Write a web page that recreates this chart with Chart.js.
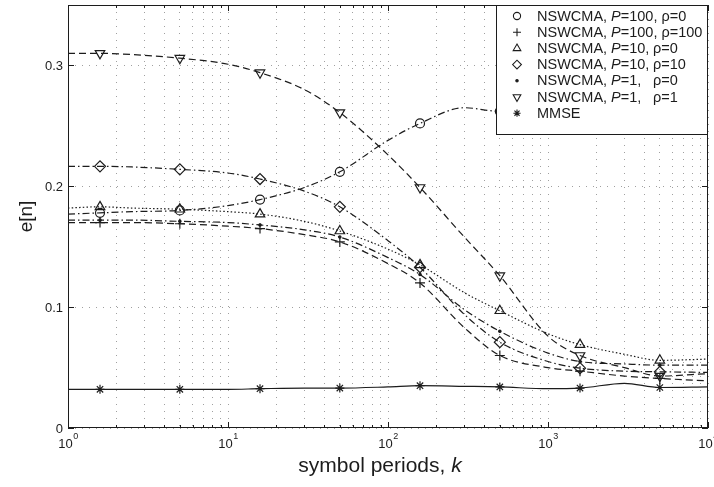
<!DOCTYPE html>
<html>
<head>
<meta charset="utf-8">
<script src="https://cdn.jsdelivr.net/npm/chart.js@4.4.1/dist/chart.umd.min.js"></script>
<style>
  html, body { margin: 0; padding: 0; background: #fff; }
  #wrap { width: 714px; height: 487px; }
</style>
</head>
<body>
<div id="wrap"><canvas id="chart" width="714" height="487"></canvas></div>
<script>
// symbol periods k where the error curves are sampled
const kValues = [1, 1.585, 2.5, 5, 10, 15.85, 30, 50, 100, 158.5, 300, 500, 1000, 1585, 3000, 5000, 10000];
// samples that carry a marker
const markerIdx = [1, 3, 5, 7, 9, 11, 13, 15];

const errP100r0   = [0.177, 0.178, 0.179, 0.180, 0.184, 0.189, 0.199, 0.212, 0.238, 0.252, 0.265, 0.262, 0.268, 0.272, 0.275, 0.276, 0.276];
const errP100r100 = [0.170, 0.170, 0.170, 0.169, 0.167, 0.165, 0.160, 0.154, 0.136, 0.120, 0.083, 0.060, 0.050, 0.047, 0.043, 0.041, 0.039];
const errP10r0    = [0.182, 0.183, 0.182, 0.181, 0.179, 0.177, 0.171, 0.163, 0.148, 0.135, 0.112, 0.097, 0.078, 0.069, 0.061, 0.056, 0.057];
const errP10r10   = [0.2165, 0.2165, 0.216, 0.214, 0.211, 0.206, 0.196, 0.183, 0.155, 0.133, 0.094, 0.071, 0.055, 0.0495, 0.047, 0.0465, 0.046];
const errP1r0     = [0.172, 0.172, 0.172, 0.171, 0.170, 0.168, 0.164, 0.158, 0.141, 0.127, 0.098, 0.080, 0.062, 0.055, 0.053, 0.052, 0.052];
const errP1r1     = [0.310, 0.310, 0.309, 0.306, 0.301, 0.294, 0.280, 0.261, 0.226, 0.199, 0.158, 0.126, 0.076, 0.060, 0.050, 0.043, 0.045];
const errMMSE     = [0.032, 0.032, 0.032, 0.032, 0.032, 0.0325, 0.033, 0.033, 0.034, 0.035, 0.0345, 0.034, 0.0325, 0.033, 0.037, 0.0335, 0.034];

const xDecades = [1, 10, 100, 1000, 10000];
const xExponents = ['0', '1', '2', '3', '4'];
const yTicks = [0, 0.1, 0.2, 0.3];

const FONT = '"Liberation Sans", Arial, Helvetica, sans-serif';
const INK = '#1c1c1c';

const DASH = [7, 4];
const DASHDOT = [7, 3, 1.5, 3];
const DOT = [1.5, 2.2];

// name runs: [text, italic]; rho is placed in a column when set
const series = [
  { data: errP100r0, style: 'circle', r: 4.5, dash: DASHDOT,
    name: [['NSWCMA, '], ['P', 1], ['=100, \u03c1=0']] },
  { data: errP100r100, style: 'cross', r: 5, dash: DASH,
    name: [['NSWCMA, '], ['P', 1], ['=100, \u03c1=100']] },
  { data: errP10r0, style: 'triangle', r: 5.5, dash: DOT,
    name: [['NSWCMA, '], ['P', 1], ['=10,']], rho: '\u03c1=0' },
  { data: errP10r10, style: 'rectRot', r: 5.5, dash: DASHDOT,
    name: [['NSWCMA, '], ['P', 1], ['=10,']], rho: '\u03c1=10' },
  { data: errP1r0, style: 'circle', r: 1.2, dash: DASHDOT, filled: true,
    name: [['NSWCMA, '], ['P', 1], ['=1,']], rho: '\u03c1=0' },
  { data: errP1r1, style: 'triangle', r: 5.5, rot: 180, dash: DASH,
    name: [['NSWCMA, '], ['P', 1], ['=1,']], rho: '\u03c1=1' },
  { data: errMMSE, style: 'star', r: 4.5, dash: [],
    name: [['MMSE']] }
];

const datasets = series.map(s => ({
  data: s.data.map((v, i) => ({ x: kValues[i], y: v })),
  borderColor: INK,
  borderWidth: 1.2,
  borderDash: s.dash,
  cubicInterpolationMode: 'monotone',
  pointStyle: s.style,
  pointRotation: s.rot || 0,
  pointRadius: ctx => markerIdx.includes(ctx.dataIndex) ? s.r : 0,
  pointBorderColor: INK,
  pointBorderWidth: 1.2,
  pointBackgroundColor: s.filled ? INK : 'rgba(0,0,0,0)',
  fill: false
}));

function drawRuns(ctx, runs, x, y, size) {
  runs.forEach(([t, it]) => {
    ctx.font = (it ? 'italic ' : '') + size + 'px ' + FONT;
    ctx.fillText(t, x, y);
    x += ctx.measureText(t).width;
  });
  return x;
}

const frame = {
  id: 'frame',
  afterDatasetsDraw(chart) {
    const { ctx, chartArea: a, scales: { x, y } } = chart;
    ctx.save();
    ctx.strokeStyle = INK;
    ctx.lineWidth = 1;
    ctx.setLineDash([]);

    // inward tick marks on all four sides
    ctx.beginPath();
    x.ticks.forEach(t => {
      const px = Math.round(x.getPixelForValue(t.value)) + 0.5;
      const len = xDecades.includes(t.value) ? 6 : 3;
      ctx.moveTo(px, a.bottom); ctx.lineTo(px, a.bottom - len);
      ctx.moveTo(px, a.top); ctx.lineTo(px, a.top + len);
    });
    yTicks.forEach(v => {
      const py = Math.round(y.getPixelForValue(v)) + 0.5;
      ctx.moveTo(a.left, py); ctx.lineTo(a.left + 6, py);
      ctx.moveTo(a.right, py); ctx.lineTo(a.right - 6, py);
    });
    ctx.stroke();
    ctx.strokeRect(a.left + 0.5, a.top + 0.5, a.width - 1, a.height - 1);

    // legend box in the upper right corner
    const lx = 496, ly = a.top, lw = a.right - lx, lh = 130;
    ctx.fillStyle = '#fff';
    ctx.fillRect(lx, ly, lw, lh);
    ctx.strokeRect(lx + 0.5, ly + 0.5, lw - 1, lh - 1);
    ctx.textBaseline = 'middle';
    ctx.textAlign = 'left';
    series.forEach((s, i) => {
      const cy = ly + 11 + i * 16.2;
      ctx.fillStyle = s.filled ? INK : 'rgba(0,0,0,0)';
      ctx.strokeStyle = INK;
      ctx.lineWidth = 1.1;
      Chart.helpers.drawPoint(ctx, {
        pointStyle: s.style, rotation: s.rot || 0,
        radius: s.filled ? s.r : s.r * 0.8, borderWidth: 1.1
      }, 517, cy);
      ctx.fillStyle = INK;
      drawRuns(ctx, s.name, 537, cy + 0.5, 14.5);
      if (s.rho) drawRuns(ctx, [[s.rho]], 653, cy + 0.5, 14.5);
    });
    ctx.restore();
  },
  afterDraw(chart) {
    const { ctx, chartArea: a, scales: { x, y } } = chart;
    ctx.save();
    ctx.fillStyle = INK;

    // y tick labels
    ctx.font = '13px ' + FONT;
    ctx.textAlign = 'right';
    ctx.textBaseline = 'middle';
    yTicks.forEach(v => {
      ctx.fillText(String(v), a.left - 5, y.getPixelForValue(v) + 1);
    });

    // x tick labels as powers of ten
    ctx.textAlign = 'left';
    ctx.textBaseline = 'alphabetic';
    xDecades.forEach((v, i) => {
      ctx.font = '13px ' + FONT;
      const wb = ctx.measureText('10').width;
      ctx.font = '9px ' + FONT;
      const we = ctx.measureText(xExponents[i]).width;
      const x0 = x.getPixelForValue(v) - (wb + we) / 2;
      ctx.font = '13px ' + FONT;
      ctx.fillText('10', x0, 448);
      ctx.font = '9px ' + FONT;
      ctx.fillText(xExponents[i], x0 + wb + 0.5, 439);
    });

    // axis titles
    ctx.font = '21px ' + FONT;
    const base = 'symbol periods, ';
    const wBase = ctx.measureText(base).width;
    ctx.font = 'italic 21px ' + FONT;
    const wK = ctx.measureText('k').width;
    const tx = (a.left + a.right) / 2 - 8 - (wBase + wK) / 2;
    drawRuns(ctx, [[base], ['k', 1]], tx, 472, 21);

    ctx.translate(27, (a.top + a.bottom) / 2);
    ctx.rotate(-Math.PI / 2);
    ctx.textAlign = 'center';
    ctx.textBaseline = 'middle';
    ctx.font = '19px ' + FONT;
    ctx.fillText('e[n]', 0, 0);
    ctx.restore();
  }
};

new Chart(document.getElementById('chart'), {
  type: 'line',
  data: { datasets },
  options: {
    responsive: false,
    animation: false,
    devicePixelRatio: 1,
    layout: { padding: { top: 5, right: 6, left: 0, bottom: 0 } },
    plugins: { legend: { display: false }, tooltip: { enabled: false } },
    scales: {
      x: {
        type: 'logarithmic',
        min: 1,
        max: 10000,
        afterBuildTicks(scale) {
          const ticks = [];
          xDecades.slice(0, -1).forEach(d => {
            for (let m = 1; m < 10; m++) ticks.push({ value: d * m, major: m === 1 });
          });
          ticks.push({ value: 10000, major: true });
          scale.ticks = ticks;
        },
        afterFit(scale) {
          scale.height = 59;
          scale.paddingLeft = 0;
          scale.paddingRight = 0;
        },
        ticks: { display: false },
        grid: { color: '#a0a0a0', lineWidth: 1, drawTicks: false },
        border: { display: false, dash: [1, 6] }
      },
      y: {
        min: 0,
        max: 0.35,
        afterBuildTicks(scale) {
          scale.ticks = yTicks.map(v => ({ value: v }));
        },
        afterFit(scale) {
          scale.width = 68;
          scale.paddingTop = 0;
          scale.paddingBottom = 0;
        },
        ticks: { display: false },
        grid: { color: '#a0a0a0', lineWidth: 1, drawTicks: false },
        border: { display: false, dash: [1, 6] }
      }
    }
  },
  plugins: [frame]
});
</script>
</body>
</html>
